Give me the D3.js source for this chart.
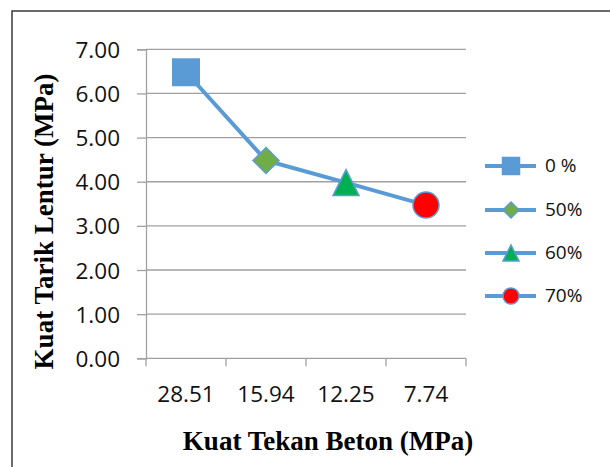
<!DOCTYPE html>
<html>
<head>
<meta charset="utf-8">
<script src="https://cdn.jsdelivr.net/npm/d3@7/dist/d3.min.js"></script>
<style>
  html, body { margin: 0; padding: 0; background: #fff; }
  svg { display: block; }
</style>
</head>
<body>
<svg id="chart" width="610" height="467"></svg>
<script>
// Compressive strength of each mix (x categories) and its flexural strength
const categories = ["28.51", "15.94", "12.25", "7.74"];
const flexural = [6.48, 4.48, 3.98, 3.47];
const legendLabels = ["0 %", "50%", "60%", "70%"];
const markerShapes = ["square", "diamond", "triangle", "circle"];
const markerFills = ["#5B9BD5", "#70AD47", "#00B050", "#FF0000"];
const yTicks = [0, 1, 2, 3, 4, 5, 6, 7];

const svg = d3.select("#chart");
const lineColor = "#5B9BD5";
const gridColor = "#A0A0A0";
const numFont = "'Open Sans', 'Noto Sans', sans-serif";
const titleFont = "'Liberation Serif', 'Times New Roman', serif";

// outer frame
svg.append("rect")
  .attr("x", 12).attr("y", 11)
  .attr("width", 620).attr("height", 480)
  .attr("fill", "none").attr("stroke", "#3a3a3a").attr("stroke-width", 1.5);

const plot = { left: 146, right: 466, top: 49.3, bottom: 358.3 };

const x = d3.scaleBand().domain(categories).range([plot.left, plot.right]).padding(0);
const y = d3.scaleLinear().domain([0, 7]).range([plot.bottom, plot.top]);

// horizontal gridlines
svg.append("g").selectAll("line").data(yTicks.filter(d => d > 0)).join("line")
  .attr("x1", plot.left).attr("x2", plot.right)
  .attr("y1", d => y(d)).attr("y2", d => y(d))
  .attr("stroke", gridColor).attr("stroke-width", 1.3);

// y axis
const yAxis = svg.append("g")
  .attr("transform", `translate(${plot.left},0)`)
  .call(d3.axisLeft(y).tickValues(yTicks).tickFormat(d3.format(".2f")).tickSize(9).tickPadding(17));
yAxis.select(".domain").attr("stroke", gridColor).attr("stroke-width", 1.3);
yAxis.selectAll(".tick line").attr("stroke", gridColor).attr("stroke-width", 1.3);
yAxis.selectAll(".tick text")
  .attr("font-family", numFont).attr("font-size", 22.5).attr("fill", "#111")
  .attr("dy", "0.36em");

// x axis with ticks on category boundaries
const xAxisG = svg.append("g").attr("transform", `translate(0,${plot.bottom})`);
xAxisG.append("line")
  .attr("x1", plot.left).attr("x2", plot.right)
  .attr("stroke", gridColor).attr("stroke-width", 1.3);
const boundaries = categories.map(c => x(c)).concat([x(categories[categories.length - 1]) + x.bandwidth()]);
xAxisG.selectAll("line.tk").data(boundaries).join("line").attr("class", "tk")
  .attr("x1", d => d).attr("x2", d => d).attr("y1", 0).attr("y2", 8)
  .attr("stroke", gridColor).attr("stroke-width", 1.3);
xAxisG.selectAll("text").data(categories).join("text")
  .attr("x", d => x(d) + x.bandwidth() / 2).attr("y", 44)
  .attr("text-anchor", "middle")
  .attr("font-family", numFont).attr("font-size", 22.5).attr("fill", "#111")
  .text(d => d);

// data line
const cx = c => x(c) + x.bandwidth() / 2;
svg.append("path")
  .datum(categories.map((c, i) => [cx(c), y(flexural[i])]))
  .attr("d", d3.line())
  .attr("fill", "none").attr("stroke", lineColor).attr("stroke-width", 4)
  .attr("stroke-linejoin", "round");

function marker(g, shape, fill, size) {
  const h = size / 2;
  let el;
  if (shape === "square") {
    el = g.append("rect").attr("x", -h).attr("y", -h).attr("width", size).attr("height", size);
  } else if (shape === "diamond") {
    el = g.append("path").attr("d", `M0,${-h}L${h},0L0,${h}L${-h},0Z`);
  } else if (shape === "triangle") {
    el = g.append("path").attr("d", `M0,${-h}L${h},${h}L${-h},${h}Z`);
  } else {
    el = g.append("circle").attr("r", h);
  }
  el.attr("fill", fill).attr("stroke", lineColor).attr("stroke-width", 1.5);
}

const markerSizes = [26.5, 26, 26, 26];
categories.forEach((c, i) => {
  const g = svg.append("g").attr("transform", `translate(${cx(c)},${y(flexural[i])})`);
  marker(g, markerShapes[i], markerFills[i], markerSizes[i]);
});

// legend
const legendY = [166, 210, 253, 296];
legendLabels.forEach((lab, i) => {
  const g = svg.append("g").attr("transform", `translate(0,${legendY[i]})`);
  g.append("line").attr("x1", 485).attr("x2", 536).attr("y1", 0).attr("y2", 0)
    .attr("stroke", lineColor).attr("stroke-width", 4);
  const mg = g.append("g").attr("transform", "translate(511,0)");
  marker(mg, markerShapes[i], markerFills[i], i === 0 ? 17 : 16);
  g.append("text").attr("x", 545).attr("y", 0).attr("dy", "0.3em")
    .attr("font-family", numFont).attr("font-size", 19).attr("fill", "#111")
    .text(lab);
});

// axis titles
svg.append("text")
  .attr("x", 328).attr("y", 450)
  .attr("text-anchor", "middle")
  .attr("font-family", titleFont).attr("font-weight", "bold").attr("font-size", 27)
  .attr("fill", "#000")
  .text("Kuat Tekan Beton (MPa)");

svg.append("text")
  .attr("transform", "translate(53,221.5) rotate(-90)")
  .attr("text-anchor", "middle")
  .attr("font-family", titleFont).attr("font-weight", "bold").attr("font-size", 27)
  .attr("fill", "#000")
  .text("Kuat Tarik Lentur (MPa)");
</script>
</body>
</html>
